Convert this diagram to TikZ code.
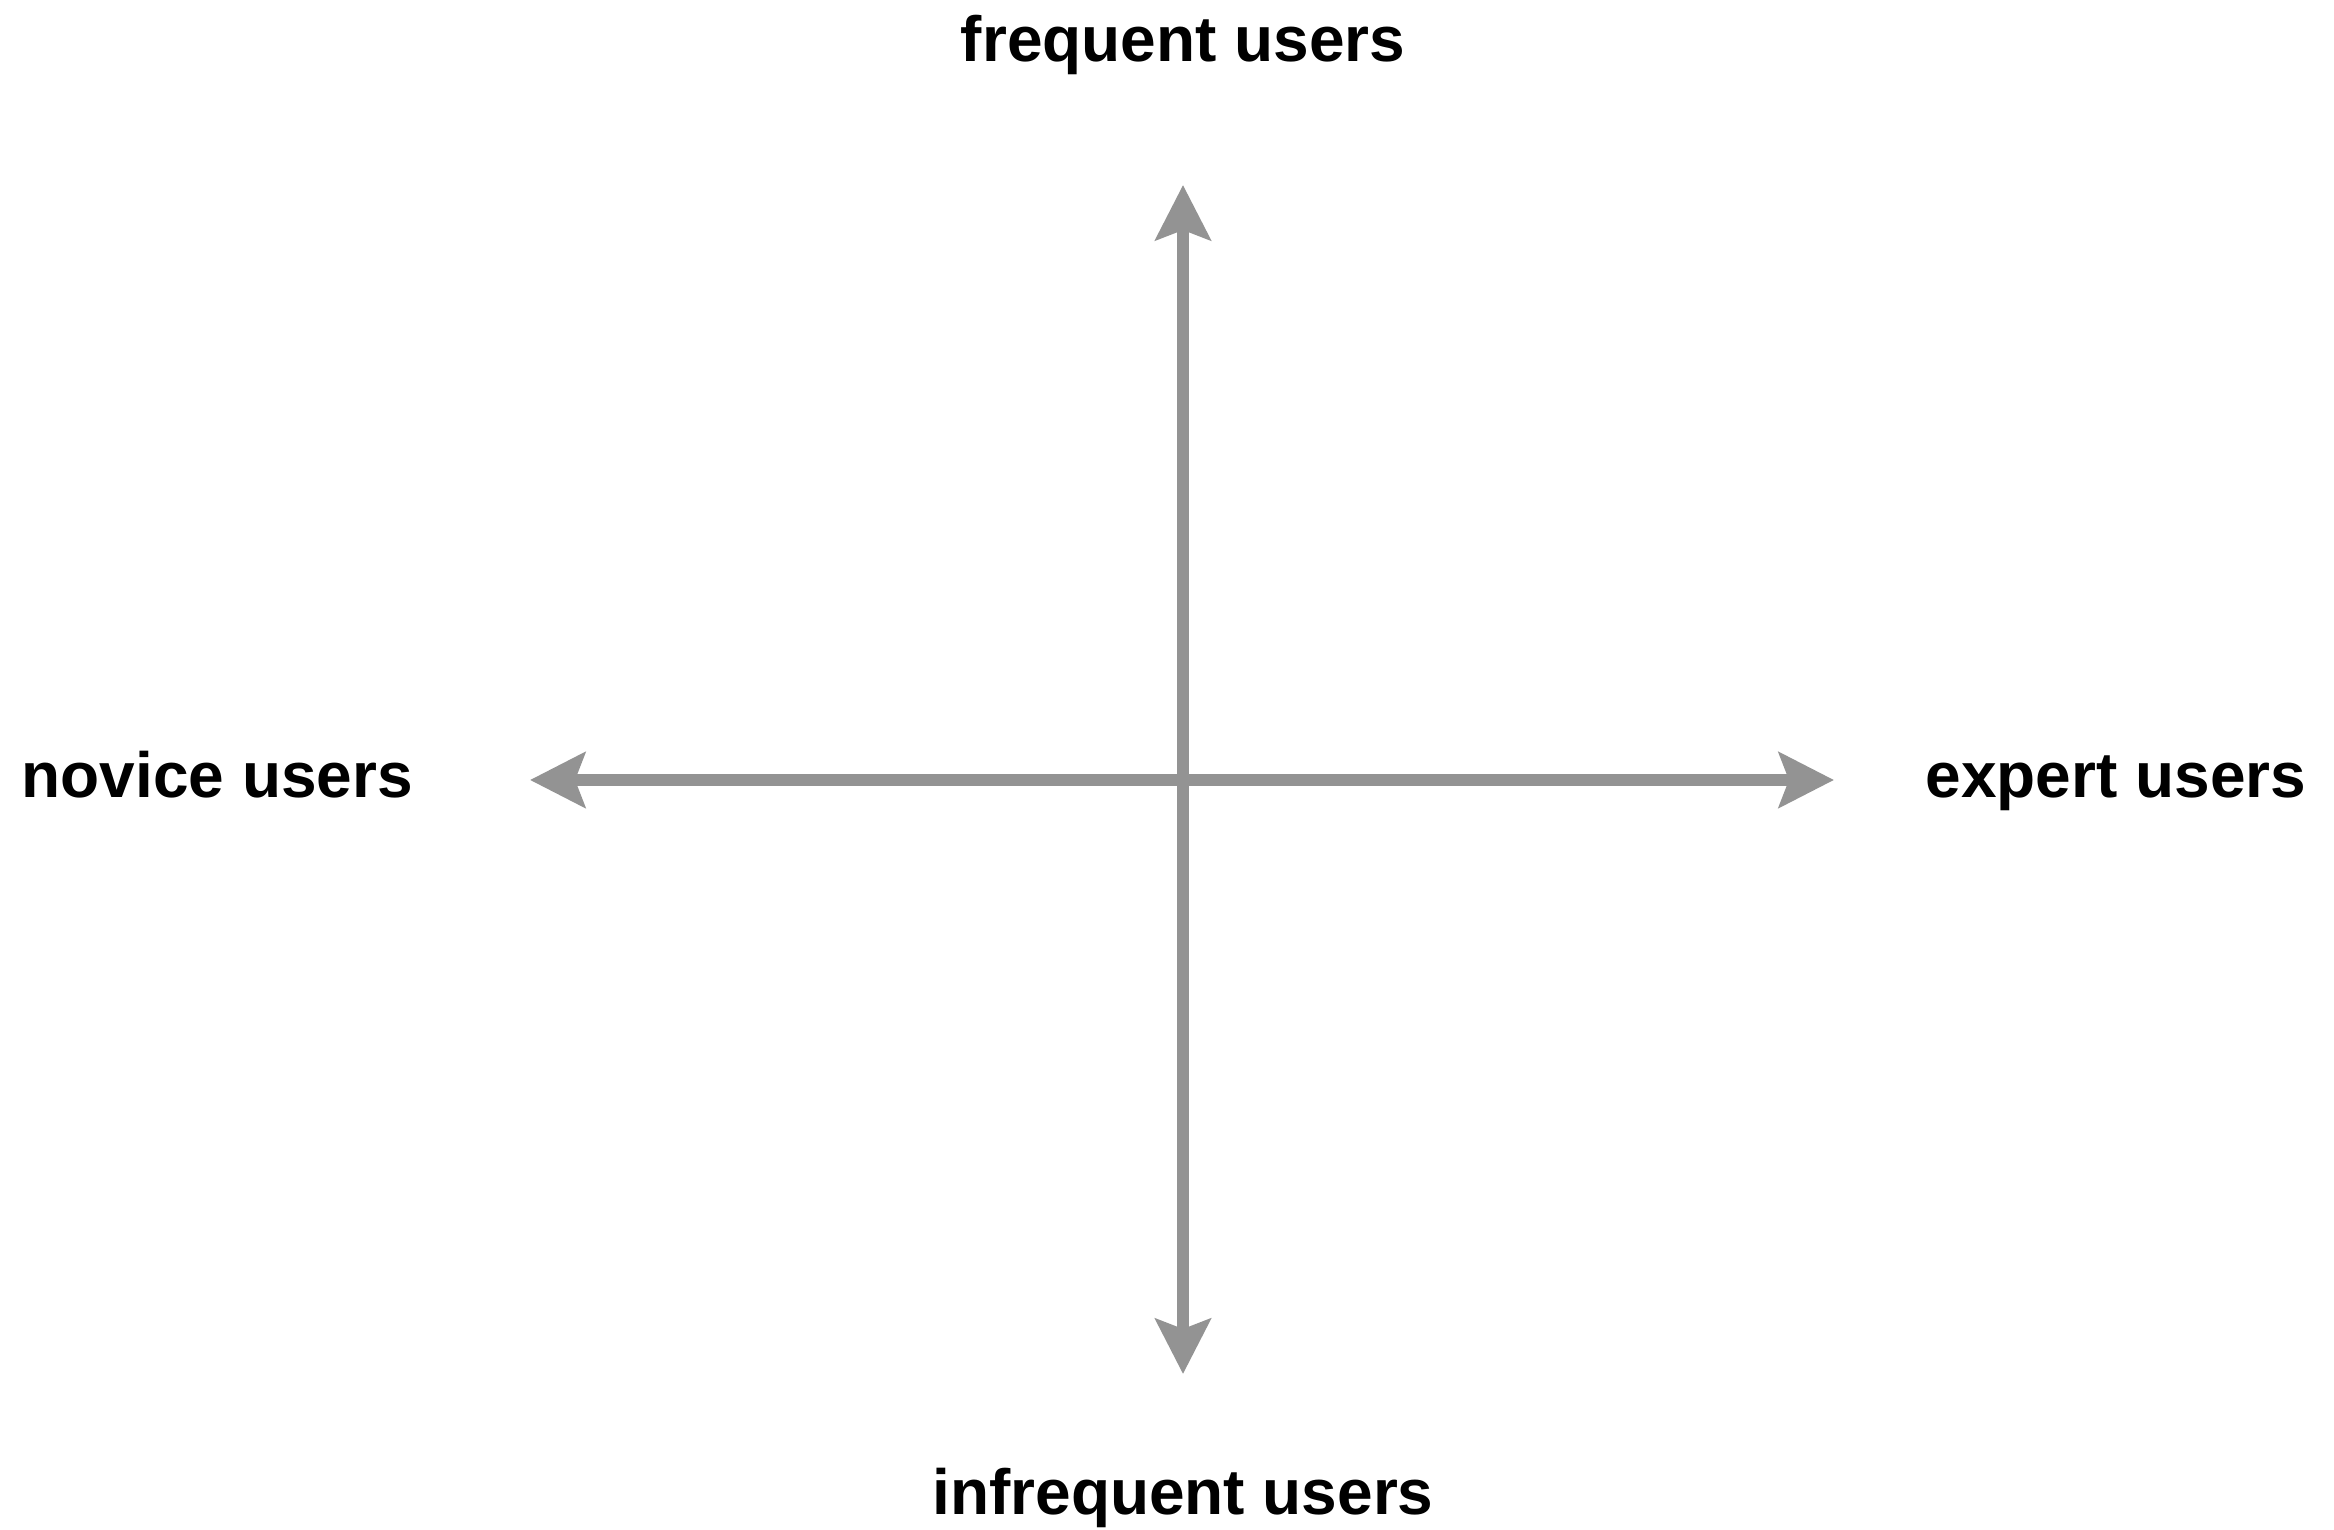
\documentclass[tikz,border=0pt]{standalone}
\usepackage{fontspec}
\setmainfont{Liberation Sans}
\usetikzlibrary{arrows.meta}
\definecolor{achsgrau}{RGB}{147,147,147}

\begin{document}
\begin{tikzpicture} [ text depth = 0pt
								, pol/.style={inner sep=0pt, font=\fontsize{18.2}{21.8}\selectfont\bfseries}
								, achse/.style ={draw=achsgrau, line width=1.25mm, arrows={Stealth[length=5.5mm, width=5.5mm, inset=1mm]-Stealth[length=5.5mm, width=5.5mm, inset=1mm]}}
								]
	\useasboundingbox (0,0) rectangle (23.34,15.29);

	\node (frequent) 		[pol, anchor=base] at (11.83,14.67) {frequent users};
	\node (infrequent) 	[pol, anchor=base] at (11.83,0.15) {infrequent users};
	\node (novice) 		[pol, anchor=base west] at (0.21,7.31) {novice users};
	\node (expert) 		[pol, anchor=base west] at (19.25,7.31) {expert users};

	\coordinate (oben) at (11.83,13.44);
	\coordinate (unten) at (11.83,1.55);
	\coordinate (links) at (5.30,7.49);
	\coordinate (rechts) at (18.34,7.49);

	\draw [achse] (unten) -- (oben);
	\draw [achse] (links) -- (rechts);

\end{tikzpicture}
\end{document}
